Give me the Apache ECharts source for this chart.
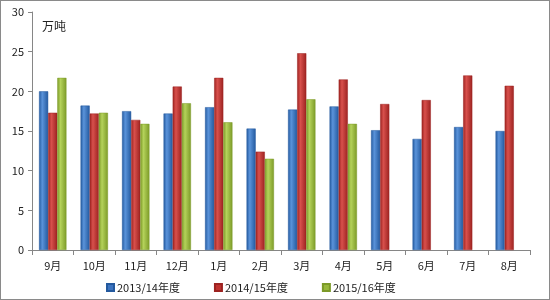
<!DOCTYPE html>
<html><head><meta charset="utf-8">
<script src="https://cdn.jsdelivr.net/npm/echarts@6/dist/echarts.min.js"></script>
<style>html,body{margin:0;padding:0;background:#fff}#c{width:550px;height:300px;box-sizing:border-box;border:1px solid #8a8a8a}</style>
</head><body><div id="c"></div>
<script>
var categories = ['9月','10月','11月','12月','1月','2月','3月','4月','5月','6月','7月','8月'];
var seriesNames = ['2013/14年度','2014/15年度','2015/16年度'];
var s2013 = [20.0,18.2,17.5,17.2,18.0,15.3,17.7,18.1,15.1,14.0,15.5,15.0];
var s2014 = [17.3,17.2,16.4,20.6,21.7,12.4,24.8,21.5,18.4,18.9,22.0,20.7];
var s2015 = [21.7,17.3,15.9,18.5,16.1,11.5,19.0,15.9,null,null,null,null];
var yTicks = {min:0, max:30, interval:5};

var chart = echarts.init(document.getElementById('c'), null, {renderer:'canvas'});
function grad(dark, light){
  return new echarts.graphic.LinearGradient(0,0,1,0,[
    {offset:0,color:dark},{offset:0.35,color:light},{offset:1,color:dark}]);
}
var colors = [['#23599e','#5a93da'],['#9c2220','#d8504c'],['#7c9a28','#b4d25a']];
var legendColors = ['#3c74c0','#c0322f','#98b83c'];
var data = [s2013,s2014,s2015];
chart.setOption({
  animation:false,
  textStyle:{fontFamily:'"Noto Sans CJK SC", "DejaVu Sans", sans-serif'},
  grid:{left:31,right:19,top:11,bottom:49},
  graphic:[{type:'text',left:41,top:19,style:{text:'万吨',fontSize:12,fill:'#222',fontFamily:'"Noto Sans CJK SC", sans-serif'}}],
  legend:{bottom:1,left:100,itemWidth:7,itemHeight:7,itemGap:34,icon:'rect',
    textStyle:{fontSize:11,color:'#222',padding:[0,0,0,-2]},
    data:seriesNames.map(function(n,i){return {name:n,itemStyle:{color:legendColors[i]}};})},
  xAxis:{type:'category',data:categories,
    axisLine:{lineStyle:{color:'#868686'}},
    axisTick:{show:true,length:5,lineStyle:{color:'#868686'}},
    axisLabel:{color:'#222',fontSize:11,margin:10}},
  yAxis:{type:'value',min:yTicks.min,max:yTicks.max,interval:yTicks.interval,
    splitLine:{show:false},
    axisLine:{show:true,lineStyle:{color:'#868686'}},
    axisTick:{show:true,inside:false,length:4,lineStyle:{color:'#868686'}},
    axisLabel:{color:'#222',fontSize:11,margin:8}},
  series:seriesNames.map(function(n,i){
    return {name:n,type:'bar',data:data[i],barGap:'0%',barCategoryGap:'34%',
      itemStyle:{color:grad(colors[i][0],colors[i][1]),borderColor:colors[i][0],borderWidth:0.5},
      emphasis:{disabled:true}};
  })
});
</script></body></html>
